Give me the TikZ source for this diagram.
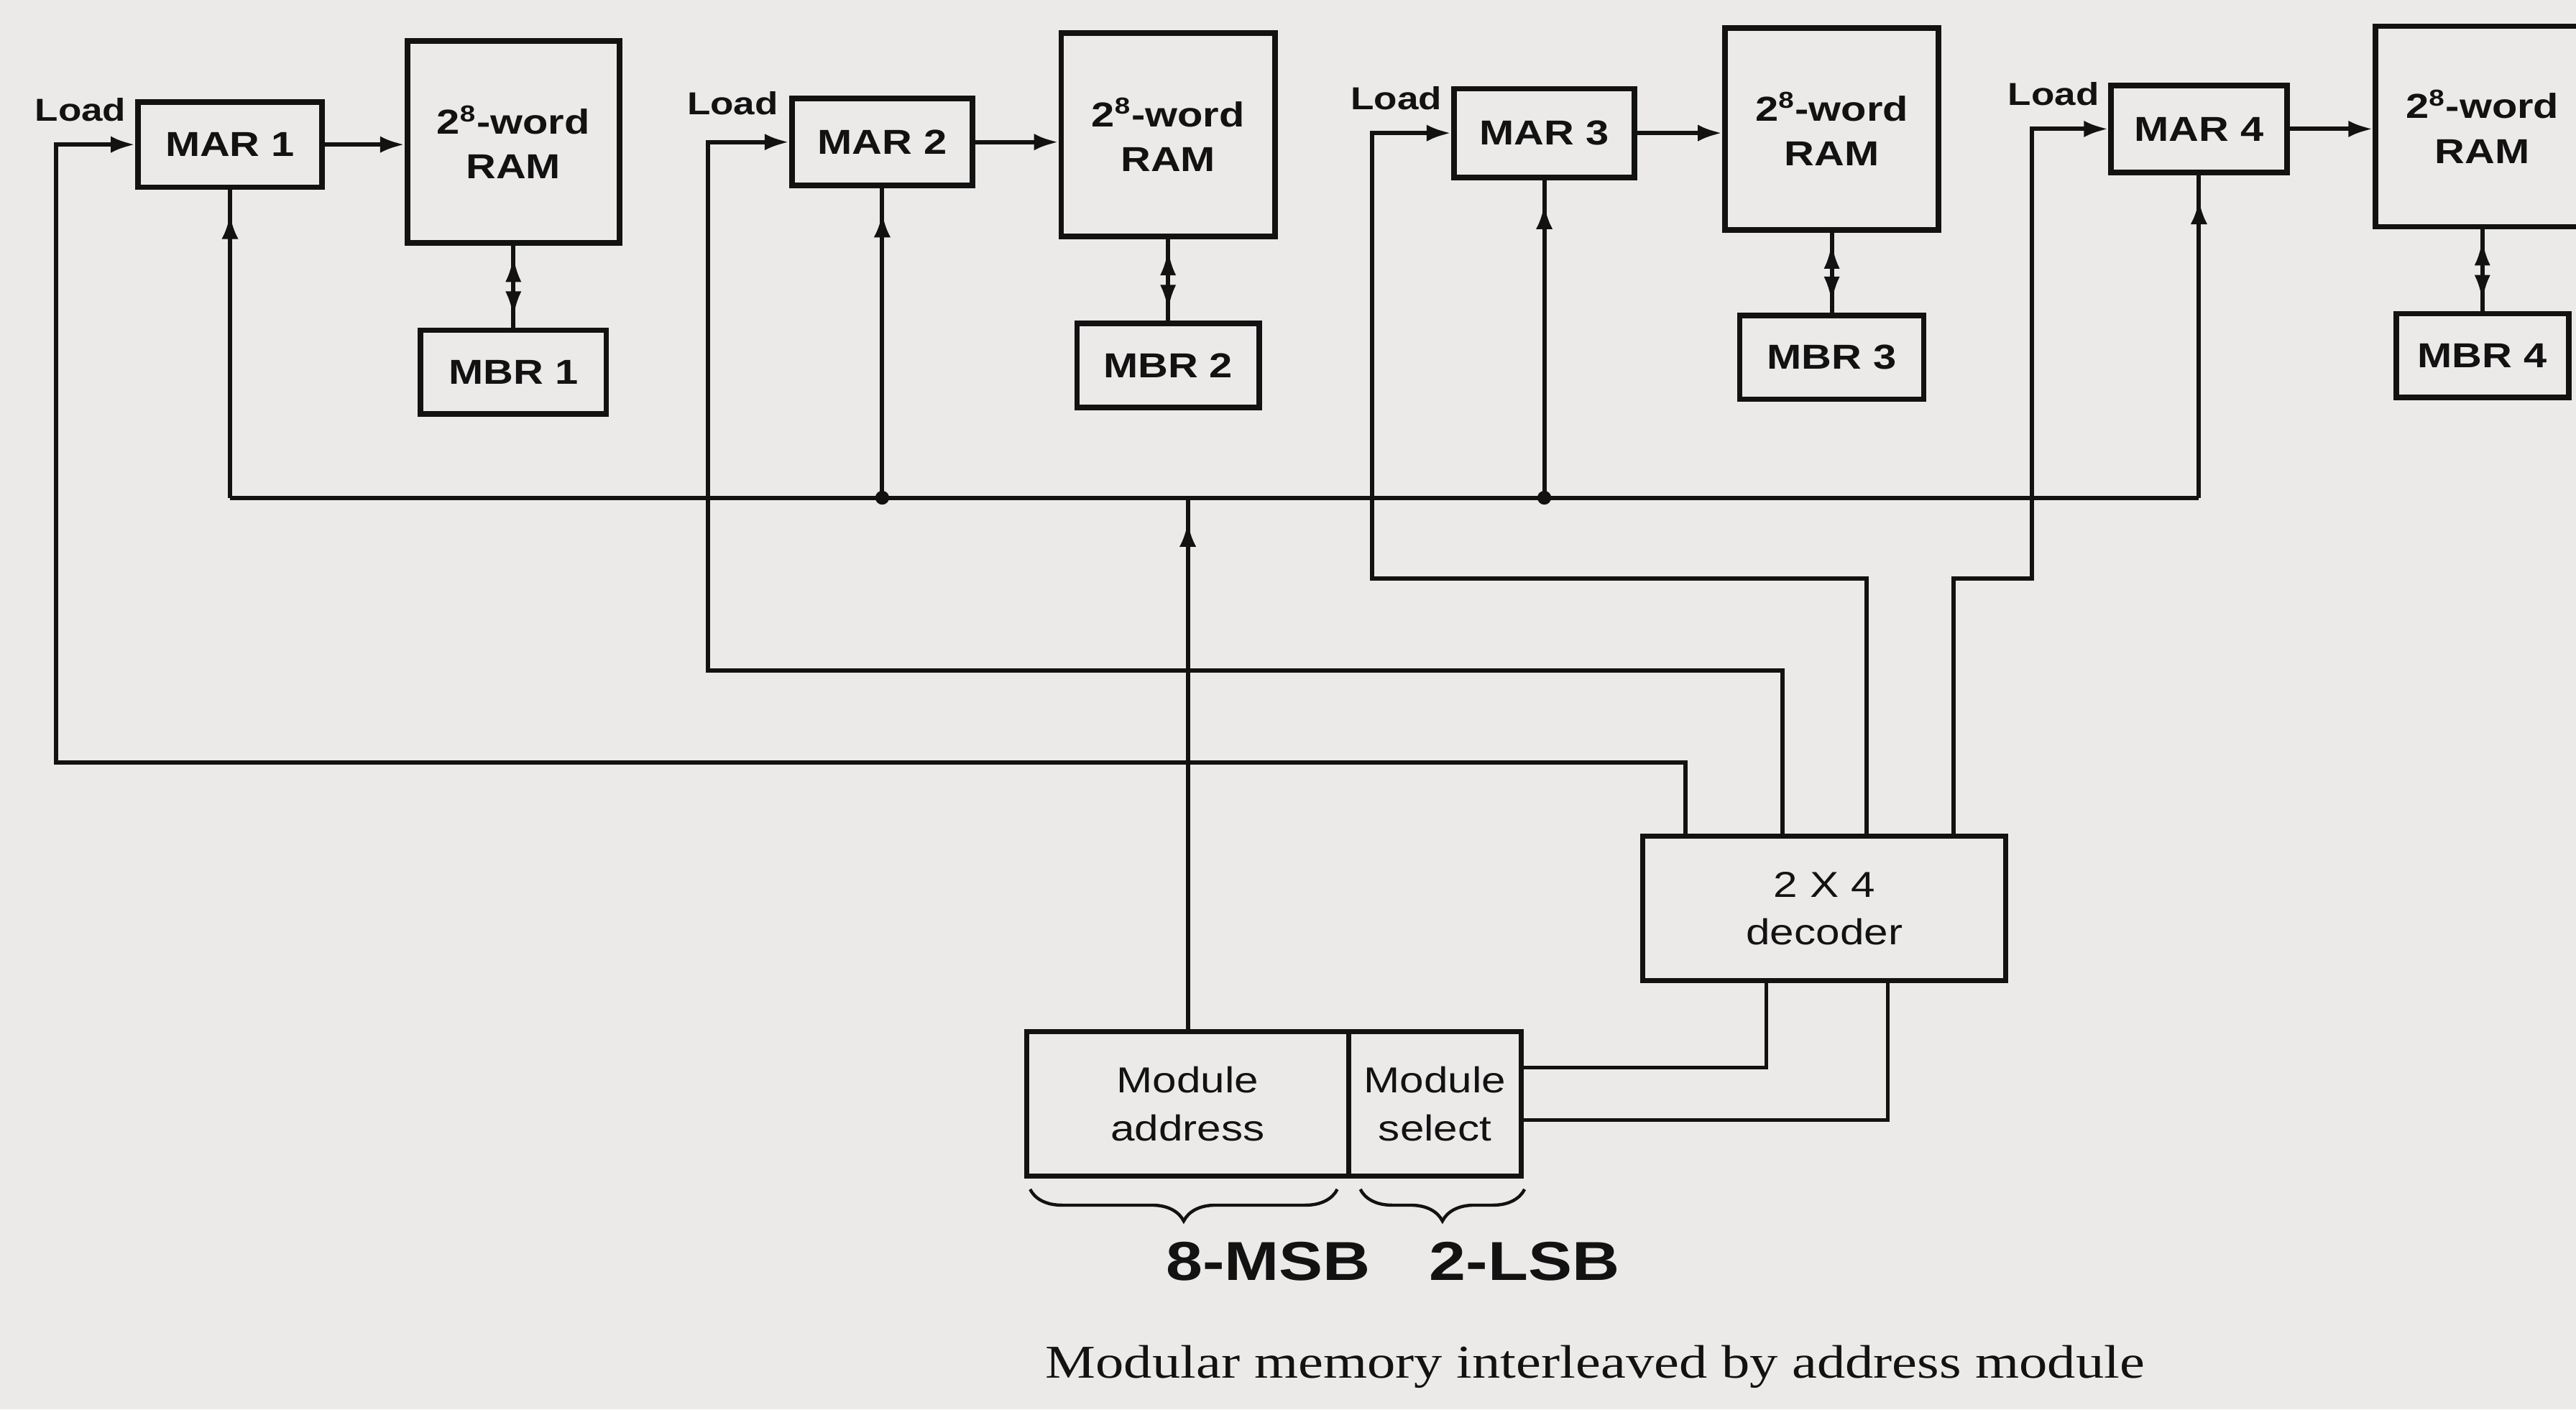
\documentclass[tikz,border=0pt]{standalone}
\usepackage{fontspec}
\setmainfont{Liberation Serif}
\newfontfamily\boxfont[FakeStretch=1.2]{Liberation Sans}
\newfontfamily\capfont[FakeStretch=1.2]{Liberation Serif}
\usetikzlibrary{arrows.meta,decorations.pathreplacing}
\definecolor{paper}{RGB}{236,234,233}
\definecolor{ink}{RGB}{18,18,18}
\begin{document}
\begin{tikzpicture}[x=0.02cm,y=-0.02cm,
  box/.style={draw=ink, line width=1.9pt, inner sep=0pt, align=center, text=ink,
    font=\boxfont\bfseries\fontsize{12}{15.5}\selectfont},
  plainbox/.style={draw=ink, line width=1.7pt, inner sep=0pt, align=center, text=ink,
    font=\boxfont\fontsize{12.5}{16.5}\selectfont},
  loadlbl/.style={inner sep=0pt, text=ink, font=\boxfont\bfseries\fontsize{11}{13}\selectfont},
  wire/.style={draw=ink, line width=1.5pt},
  thinwire/.style={draw=ink, line width=1.2pt},
  arr/.style={-{Latex[length=8.5pt,width=5.8pt]}},
  darr/.style={{Latex[length=9pt,width=5.5pt]}-{Latex[length=9pt,width=5.5pt]}},
  bracestyle/.style={draw=ink, line width=1.1pt, decorate,
    decoration={brace, mirror, amplitude=11pt}},
  hand/.style={inner sep=0pt, text=ink, font=\boxfont\bfseries\fontsize{19}{22}\selectfont}
]
\useasboundingbox (0,0) rectangle (1568,858);
\fill[paper] (0,0) rectangle (1568,858);

% ---- memory modules ----
\node[box, minimum width=2.24cm, minimum height=1.04cm] (mar1) at (140,88) {MAR 1};
\node[box, minimum width=2.58cm, minimum height=2.46cm] (ram1) at (312.5,86.5) {2\textsuperscript{8}-word\\RAM};
\node[box, minimum width=2.26cm, minimum height=1.02cm] (mbr1) at (312.5,226.5) {MBR 1};

\node[box, minimum width=2.2cm, minimum height=1.06cm] (mar2) at (537,86.5) {MAR 2};
\node[box, minimum width=2.6cm, minimum height=2.48cm] (ram2) at (711,82) {2\textsuperscript{8}-word\\RAM};
\node[box, minimum width=2.22cm, minimum height=1.02cm] (mbr2) at (711,222.5) {MBR 2};

\node[box, minimum width=2.2cm, minimum height=1.08cm] (mar3) at (940,81) {MAR 3};
\node[box, minimum width=2.6cm, minimum height=2.46cm] (ram3) at (1115,78.5) {2\textsuperscript{8}-word\\RAM};
\node[box, minimum width=2.24cm, minimum height=1.02cm] (mbr3) at (1115,217.5) {MBR 3};

\node[box, minimum width=2.14cm, minimum height=1.06cm] (mar4) at (1338.5,78.5) {MAR 4};
\node[box, minimum width=2.6cm, minimum height=2.44cm] (ram4) at (1511,77) {2\textsuperscript{8}-word\\RAM};
\node[box, minimum width=2.1cm, minimum height=1.02cm] (mbr4) at (1511,216.5) {MBR 4};

\node[loadlbl] (ld1) at (49,67) {Load};
\node[loadlbl] (ld2) at (446,63) {Load};
\node[loadlbl] (ld3) at (850,60) {Load};
\node[loadlbl] (ld4) at (1250,57) {Load};

% ---- decoder and address register ----
\node[plainbox, minimum width=4.42cm, minimum height=1.76cm] (dec) at (1110.5,553) {2 X 4\\decoder};
\node[plainbox, minimum width=3.92cm, minimum height=1.76cm] (addr) at (723,672) {Module\\address};
\node[plainbox, minimum width=2.1cm, minimum height=1.76cm] (sel) at (873.5,672) {Module\\select};

% ---- named coordinates ----
\coordinate (bus) at (0,303);
\coordinate (o1) at (1026,509);
\coordinate (o2) at (1085,509);
\coordinate (o3) at (1136,509);
\coordinate (o4) at (1189,509);
\coordinate (k1) at (34,464);
\coordinate (k2) at (431,408);
\coordinate (k3) at (835,352);
\coordinate (k4) at (1237,352);
\coordinate (i1) at (1075,597);
\coordinate (i2) at (1149,597);
\coordinate (s1) at (926,650);
\coordinate (s2) at (926,682);

% ---- MAR -> RAM ----
\foreach \n in {1,2,3,4}{
  \draw[wire, arr] (mar\n.east) -- (mar\n.east -| ram\n.west);
  \draw[wire] (ram\n.south) -- (mbr\n.north);
  \draw[wire, darr, shorten <=3.5pt, shorten >=3.5pt] (ram\n.south) -- (mbr\n.north);
}

% ---- address bus ----
\draw[wire] (mar1.south |- bus) -- (mar4.south |- bus);
\foreach \n in {1,2,3,4}{
  \draw[wire] (mar\n.south |- bus) -- (mar\n.south);
  \draw[wire, arr, shorten >=8.5pt] (mar\n.south |- bus) -- (mar\n.south);
}
\fill[ink] (mar2.south |- bus) circle (2.4pt);
\fill[ink] (mar3.south |- bus) circle (2.4pt);
\draw[wire] (addr.north) -- (addr.north |- bus);
\draw[wire, arr, shorten >=8.5pt] (addr.north) -- (addr.north |- bus);

% ---- load lines ----
\draw[wire, arr] (o1) |- (k1) |- (mar1.west);
\draw[wire, arr] (o2) |- (k2) |- (mar2.west);
\draw[wire, arr] (o3) |- (k3) |- (mar3.west);
\draw[wire, arr] (o4) |- (k4) |- (mar4.west);

% ---- module select -> decoder ----
\draw[thinwire] (i1) |- (s1);
\draw[thinwire] (i2) |- (s2);

% ---- braces and labels ----
\draw[bracestyle] (627,724) -- (814,724);
\draw[bracestyle] (828,724) -- (928,724);
\node[hand] (msb) at (772,768) {8-MSB};
\node[hand] (lsb) at (928,768) {2-LSB};

\node[inner sep=0pt, text=ink, font=\capfont\fontsize{16.3}{19}\selectfont] (cap) at (971,832)
  {Modular memory interleaved by address module};
\end{tikzpicture}
\end{document}
